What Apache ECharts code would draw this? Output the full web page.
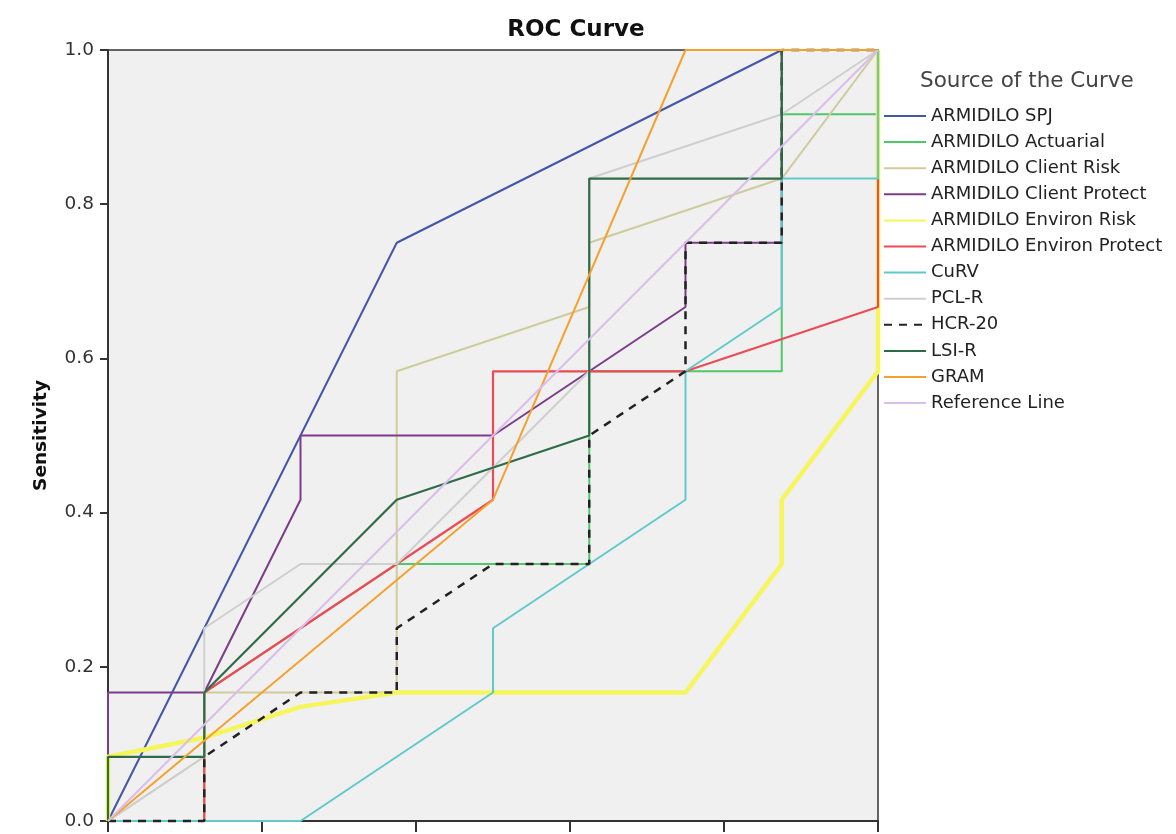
<!DOCTYPE html>
<html>
<head>
<meta charset="utf-8">
<script src="https://cdn.jsdelivr.net/npm/echarts@6/dist/echarts.min.js"></script>
<style>
html,body{margin:0;padding:0;background:#fff;}
#chart{width:1176px;height:834px;}
</style>
</head>
<body>
<div id="chart"></div>
<script>
// Series names (legend order)
const seriesNames = ["ARMIDILO SPJ","ARMIDILO Actuarial","ARMIDILO Client Risk","ARMIDILO Client Protect","ARMIDILO Environ Risk","ARMIDILO Environ Protect","CuRV","PCL-R","HCR-20","LSI-R","GRAM","Reference Line"];

// ROC points [1 - specificity, sensitivity]
const spj = [[0,0],[0.125,0.25],[0.25,0.5],[0.375,0.75],[0.875,1],[1,1]];
const actuarial = [[0,0],[0.125,0],[0.125,0.1667],[0.375,0.3333],[0.625,0.3333],[0.625,0.5833],[0.875,0.5833],[0.875,0.9167],[1,0.9167],[1,1]];
const clientRisk = [[0,0],[0.125,0.0833],[0.125,0.1667],[0.375,0.1667],[0.375,0.5833],[0.625,0.6667],[0.625,0.75],[0.875,0.8333],[1,1]];
const clientProtect = [[0,0],[0,0.1667],[0.125,0.1667],[0.25,0.4167],[0.25,0.5],[0.5,0.5],[0.625,0.5833],[0.75,0.6667],[0.75,0.75],[0.875,0.75],[0.875,1],[1,1]];
const environRisk = [[0,0],[0,0.0833],[0.125,0.108],[0.25,0.148],[0.375,0.1667],[0.75,0.1667],[0.875,0.3333],[0.875,0.4167],[1,0.5833],[1,1]];
const environProtect = [[0,0],[0.125,0],[0.125,0.1667],[0.375,0.3333],[0.5,0.4167],[0.5,0.5833],[0.75,0.5833],[1,0.6667],[1,1]];
const curv = [[0,0],[0.25,0],[0.5,0.1667],[0.5,0.25],[0.75,0.4167],[0.75,0.5833],[0.875,0.6667],[0.875,0.8333],[1,0.8333],[1,1]];
const pclr = [[0,0],[0.125,0.0833],[0.125,0.25],[0.25,0.3333],[0.375,0.3333],[0.625,0.5833],[0.625,0.8333],[0.875,0.9167],[1,1]];
const hcr20 = [[0,0],[0.125,0],[0.125,0.0833],[0.25,0.1667],[0.375,0.1667],[0.375,0.25],[0.5,0.3333],[0.625,0.3333],[0.625,0.5],[0.75,0.5833],[0.75,0.75],[0.875,0.75],[0.875,1],[1,1]];
const lsir = [[0,0],[0,0.0833],[0.125,0.0833],[0.125,0.1667],[0.375,0.4167],[0.625,0.5],[0.625,0.8333],[0.875,0.8333],[0.875,1],[1,1]];
const gram = [[0,0],[0.5,0.4167],[0.75,1],[1,1]];
const referenceLine = [[0,0],[1,1]];

const yTicks = ["0.0","0.2","0.4","0.6","0.8","1.0"];

const seriesData = [spj, actuarial, clientRisk, clientProtect, environRisk, environProtect, curv, pclr, hcr20, lsir, gram, referenceLine];
const colors = ["#4356a8","#4fc86a","#cfcb9c","#7d3c8a","#f6f65c","#ec4b55","#62c9c9","#cfcfcf","#222222","#2f6b47","#f5a12e","#dbbdeb"];
const widths = [2,2,2,2,4.5,2.2,2,2,2.5,2.2,2,2];

const FONT = 'DejaVu Sans, Liberation Sans, Arial, sans-serif';

const chart = echarts.init(document.getElementById('chart'), null, {renderer:'canvas'});

const series = seriesNames.map((name, i) => ({
  name: name,
  type: 'line',
  data: seriesData[i],
  symbol: 'none',
  clip: false,
  animation: false,
  z: 2 + i,
  itemStyle: {color: colors[i]},
  lineStyle: {
    color: colors[i],
    width: widths[i],
    type: name === "HCR-20" ? [8, 7] : 'solid'
  }
}));

chart.setOption({
  backgroundColor: '#ffffff',
  animation: false,
  title: [
    {
      text: 'ROC Curve',
      left: 571,
      top: 14,
      textAlign: 'center',
      textStyle: {fontFamily: FONT, fontSize: 23, fontWeight: 'bold', color: '#111'}
    },
    {
      text: 'Source of the Curve',
      left: 915,
      top: 65,
      textStyle: {fontFamily: FONT, fontSize: 21.5, fontWeight: 'normal', color: '#444'}
    }
  ],
  legend: {
    orient: 'vertical',
    left: 883,
    top: 106,
    padding: 0,
    itemWidth: 42,
    itemHeight: 10,
    itemGap: 6.1,
    data: seriesNames,
    itemStyle: {opacity: 0},
    textStyle: {fontFamily: FONT, fontSize: 18, color: '#222', lineHeight: 20},
    selectedMode: false
  },
  grid: {
    left: 108, top: 50, right: 298, bottom: 13,
    show: true,
    backgroundColor: '#f0f0f0',
    borderColor: '#333',
    borderWidth: 1.5,
    containLabel: false
  },
  xAxis: {
    type: 'value',
    min: 0, max: 1, interval: 0.2,
    axisLine: {show: true, lineStyle: {color: '#333', width: 2}},
    axisTick: {show: true, length: 11, inside: false, lineStyle: {color: '#333', width: 2}},
    axisLabel: {show: false},
    splitLine: {show: false}
  },
  yAxis: {
    type: 'value',
    min: 0, max: 1, interval: 0.2,
    name: 'Sensitivity',
    nameLocation: 'middle',
    nameGap: 57,
    nameTextStyle: {fontFamily: FONT, fontSize: 18.5, fontWeight: 'bold', color: '#111'},
    axisLine: {show: true, lineStyle: {color: '#333', width: 2}},
    axisTick: {show: true, length: 8, inside: false, lineStyle: {color: '#333', width: 2}},
    axisLabel: {
      margin: 14,
      fontFamily: FONT,
      fontSize: 18.5,
      color: '#333',
      formatter: function (v) { return yTicks[Math.round(v / 0.2)]; }
    },
    splitLine: {show: false}
  },
  series: series
});
</script>
</body>
</html>
